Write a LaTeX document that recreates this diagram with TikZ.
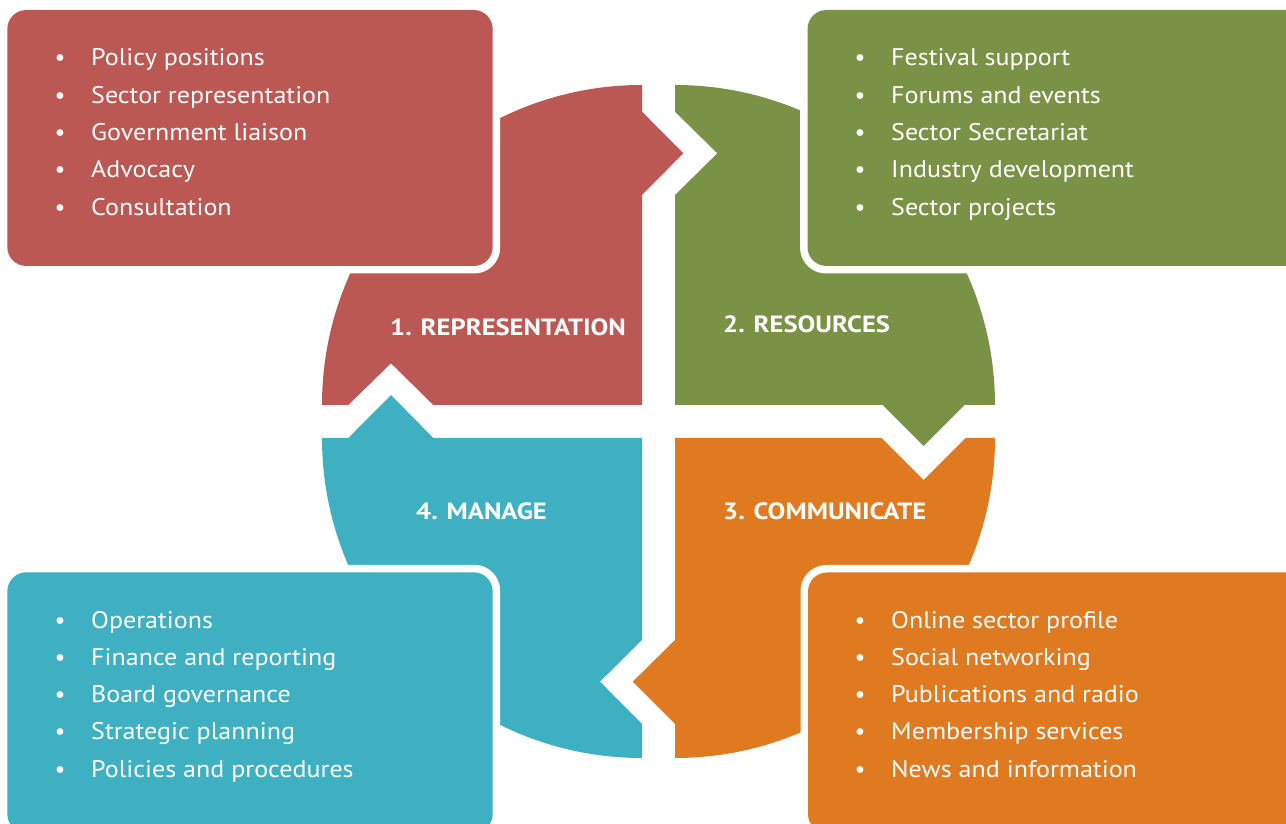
\documentclass[tikz,border=0pt]{standalone}
\usepackage{fontspec}
\setmainfont{PT Sans}
\newfontfamily\itemfont[FakeStretch=1.085]{PT Sans}
\newfontfamily\titlefont[FakeStretch=1.13]{PT Sans}
\definecolor{redc}{HTML}{BC5853}
\definecolor{greenc}{HTML}{7A9246}
\definecolor{tealc}{HTML}{3EB0C2}
\definecolor{orangec}{HTML}{E07A20}
\tikzset{
  itm/.style={anchor=base west, text=white, font=\itemfont\fontsize{24}{24}\selectfont, inner sep=0pt},
  bul/.style={anchor=base, text=white, font=\fontsize{24}{24}\selectfont, inner sep=0pt},
  ttl/.style={anchor=base west, text=white, font=\titlefont\fontsize{23.5}{23.5}\selectfont\bfseries, inner sep=0pt},
  boxwhite/.style={fill=white, rounded corners=26pt},
  boxfill/.style={rounded corners=19pt}
}
\begin{document}
\begin{tikzpicture}[x=1pt,y=1pt]
\useasboundingbox (0,0) rectangle (1286,823);
% quadrants
\fill[redc] (322,418) -- (348.3,418) -- (391,459.7) -- (433.3,418) -- (642,418)
  -- (642,628) -- (683.3,669.7) -- (642,711.3) -- (642,738)
  arc[start angle=90,end angle=180,radius=320pt] -- cycle;
\fill[greenc] (675,738) arc[start angle=90,end angle=0,radius=320pt]
  -- (964.5,418) -- (923.5,377) -- (882.5,418) -- (675,418)
  -- (675,628) -- (717.3,669.7) -- (675,711.3) -- cycle;
\fill[orangec] (675,385) -- (881.5,385) -- (923.5,343) -- (965.5,385) -- (995,385)
  arc[start angle=0,end angle=-90,radius=320pt]
  -- (675,99) -- (632.7,141.3) -- (675,183) -- cycle;
\fill[tealc] (642,385) -- (642,183) -- (600,141.3) -- (642,99) -- (642,65)
  arc[start angle=270,end angle=180,radius=320pt]
  -- (348.3,385) -- (391,428) -- (433.3,385) -- cycle;
% boxes
\fill[boxwhite] (0,549.5) rectangle (500.2,820.5);
\fill[boxfill,redc] (7.3,557) rectangle (492.7,813);
\fill[boxwhite] (800,549.5) rectangle (1310,820.5);
\fill[boxfill,greenc] (807.5,557) rectangle (1305,813);
\fill[boxwhite] (0,-20) rectangle (500.2,258.2);
\fill[boxfill,tealc] (7.3,-10) rectangle (492.7,250.7);
\fill[boxwhite] (800.5,-20) rectangle (1310,258);
\fill[boxfill,orangec] (808,-10) rectangle (1305,250.5);
% titles
\node[ttl] (t1) at (390,487) {1. REPRESENTATION};
\node[ttl] (t2) at (723,490) {2. RESOURCES};
\node[ttl] (t3) at (723,303) {3. COMMUNICATE};
\node[ttl] (t4) at (416,303) {4. MANAGE};
% lists
\foreach \t [count=\i] in {Policy positions,Sector representation,Government liaison,Advocacy,Consultation}{
  \node[bul] (rb\i) at (60,{757-37.3*(\i-1)}) {•};
  \node[itm] (ri\i) at (91,{757-37.3*(\i-1)}) {\t};
}
\foreach \t [count=\i] in {Festival support,Forums and events,Sector Secretariat,Industry development,Sector projects}{
  \node[bul] (gb\i) at (860,{757-37.3*(\i-1)}) {•};
  \node[itm] (gi\i) at (891,{757-37.3*(\i-1)}) {\t};
}
\foreach \t [count=\i] in {Operations,Finance and reporting,Board governance,Strategic planning,Policies and procedures}{
  \node[bul] (tb\i) at (60,{195-37.3*(\i-1)}) {•};
  \node[itm] (ti\i) at (91,{195-37.3*(\i-1)}) {\t};
}
\foreach \t [count=\i] in {Online sector profile,Social networking,Publications and radio,Membership services,News and information}{
  \node[bul] (ob\i) at (860,{195-37.3*(\i-1)}) {•};
  \node[itm] (oi\i) at (891,{195-37.3*(\i-1)}) {\t};
}
\end{tikzpicture}
\end{document}
